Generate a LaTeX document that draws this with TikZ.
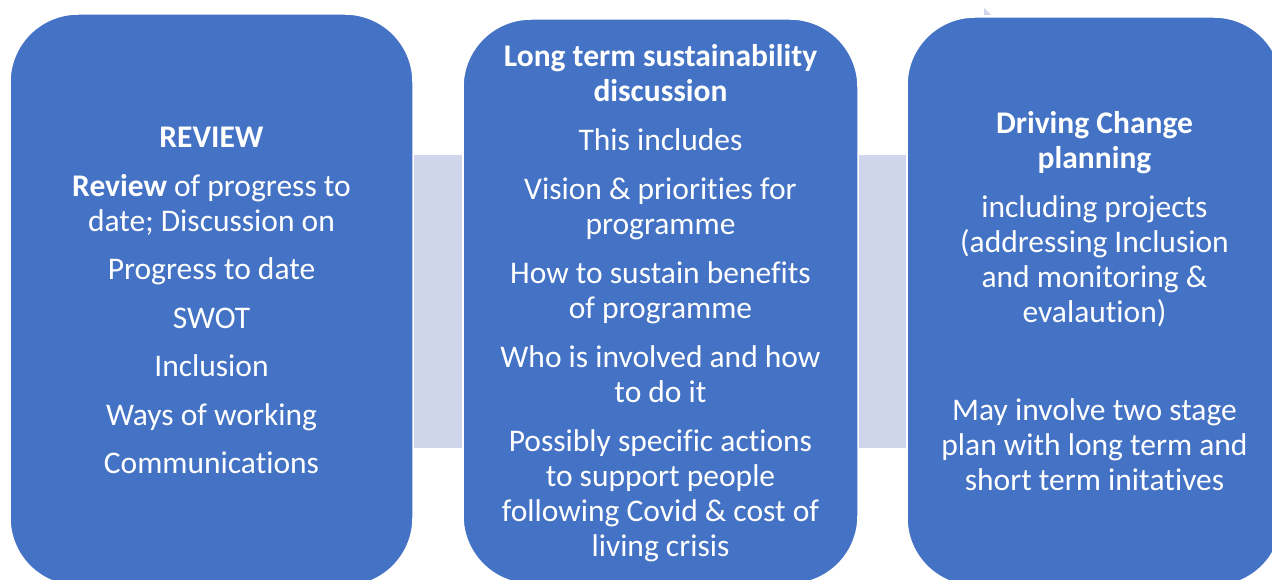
\documentclass[tikz,border=0pt]{standalone}
\usepackage{fontspec}
\setmainfont[Ligatures=NoCommon]{Carlito}
\usetikzlibrary{backgrounds}

\definecolor{stageblue}{HTML}{4472C4}
\definecolor{barlav}{HTML}{CFD5EA}

% keeps "t" and "i" as separate glyphs
\newcommand\nolig{\kern0pt{}}

\begin{document}
\begin{tikzpicture}[
  x=1pt, y=-1pt,
  stage/.style={rounded corners=68pt, fill=stageblue, draw=white, line width=1.5pt, inner sep=0pt},
  linkbar/.style={fill=barlav, draw=white, line width=1pt},
  stagetext/.style={text=white, align=center, inner sep=0pt,
    font=\fontsize{31.5}{35}\selectfont},
]
\useasboundingbox (0,0) rectangle (1272,580);
\clip (0,0) rectangle (1272,580);

% the three stages
\node[stage, minimum width=403pt, minimum height=572pt] (b1) at (211.5,300) {};
\node[stage, minimum width=395pt, minimum height=565pt] (b2) at (660.5,301.5) {};
\node[stage, minimum width=375pt, minimum height=569pt] (b3) at (1094.5,301.5) {};

% links between the stages, behind the boxes
\coordinate (bartop) at (0,155);
\coordinate (barbot) at (0,448);
\begin{scope}[on background layer]
  \path[linkbar] (b1.east |- bartop) rectangle (b2.west |- barbot);
  \path[linkbar] (b2.east |- bartop) rectangle (b3.west |- barbot);
\end{scope}

% small mark above the last stage
\fill[barlav] (984,8) -- (984,15) -- (991,15) -- cycle;

% stage texts
\node[stagetext, yshift=-0.5pt] (t1) at (b1.center) {%
  \textbf{REVIEW}\\[13.5pt]
  \textbf{Review} of progress to\\
  date; Discussion on\\[13.5pt]
  Progress to date\\[13.5pt]
  SWOT\\[13.5pt]
  Inclusion\\[13.5pt]
  Ways of working\\[13.5pt]
  Communicat\nolig ions};

\node[stagetext, yshift=-2pt] (t2) at (b2.center) {%
  \textbf{Long term sustainability}\\
  \textbf{discussion}\\[14pt]
  This includes\\[14pt]
  Vision \& priorities for\\
  programme\\[14pt]
  How to sustain benefits\\
  of programme\\[14pt]
  Who is involved and how\\
  to do it\\[14pt]
  Possibly specific act\nolig ions\\
  to support people\\
  following Covid \& cost of\\
  living crisis};

\node[stagetext] (t3) at (b3.center) {%
  \textbf{Driving Change}\\
  \textbf{planning}\\[14pt]
  including projects\\
  (addressing Inclusion\\
  and monitoring \&\\
  evalaut\nolig ion)\\[14pt]
  \mbox{}\\[14pt]
  May involve two stage\\
  plan with long term and\\
  short term init\nolig at\nolig ives};
\end{tikzpicture}
\end{document}
